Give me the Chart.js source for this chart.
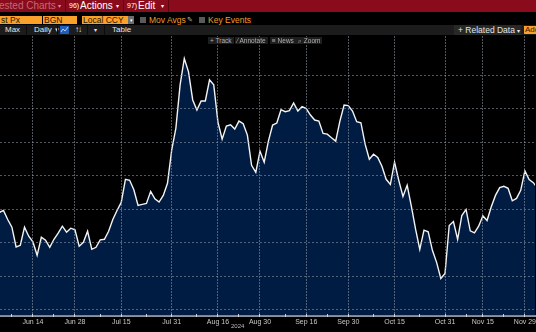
<!DOCTYPE html>
<html>
<head>
<meta charset="utf-8">
<script src="https://cdn.jsdelivr.net/npm/chart.js@4.4.1/dist/chart.umd.min.js"></script>
<style>
  * { box-sizing: border-box; }
  html, body { margin: 0; width: 536px; height: 332px; overflow: hidden; background: #000; }
  body { font-family: "Liberation Sans", Arial, sans-serif; }
  #page { position: relative; width: 536px; height: 332px; overflow: hidden; }
  .a { position: absolute; white-space: nowrap; }

  /* launchpad menu strip */
  #menu { left: 0; top: 0; width: 536px; height: 12px; background: #8a0b1b; }
  #menu .t { top: 0; line-height: 12px; font-size: 10px; color: #fff; }
  #menu .k { top: 0; line-height: 12px; font-size: 7px; color: #fff; }
  #menu .dv { top: 0; width: 1px; height: 12px; background: #5e0510; }

  /* security / pricing inputs */
  .box { top: 16px; height: 8px; background: #f9a12a; color: #2a1800; font-size: 8.5px; line-height: 8px; padding-left: 1px; }
  .chk { top: 17px; width: 6px; height: 6px; background: #5a5a5a; }
  .opt { top: 16px; font-size: 8.5px; line-height: 8px; color: #f29b28; }

  /* toolbar */
  #tools { left: 0; top: 25px; width: 536px; height: 10px; background: #1c1c1c; }
  .tb { top: 25px; font-size: 8px; line-height: 10px; color: #e4e4e4; }
  .sep { top: 25px; width: 1px; height: 10px; background: #0c0c0c; }

  /* chart action buttons */
  .btn { top: 37px; height: 7px; background: #1e1e1e; color: #b0b0b0; font-size: 6.5px; line-height: 7px; padding: 0 2px; z-index: 2; }

  #wrap { position: absolute; left: 0; top: 36px; width: 536px; height: 296px; }
  #year { left: 231px; top: 323px; font-size: 6px; line-height: 6px; color: #bdbdbd; }
</style>
</head>
<body>
<div id="page">

<div id="menu" class="a">
  <span class="a t" style="left:-1px;color:#c06a76">ested Charts</span>
  <span class="a t" style="left:58px;font-size:6px;color:#d8949c">&#9662;</span>
  <div class="a dv" style="left:65px"></div>
  <span class="a k" style="left:69px">96)</span>
  <span class="a t" style="left:80px">Actions</span>
  <span class="a t" style="left:116px;font-size:6px">&#9662;</span>
  <div class="a dv" style="left:123px"></div>
  <span class="a k" style="left:127px">97)</span>
  <span class="a t" style="left:138px">Edit</span>
  <span class="a t" style="left:161px;font-size:6px">&#9662;</span>
  <div class="a dv" style="left:168px"></div>
</div>

<div class="a box" style="left:0;width:42px">st Px</div>
<div class="a box" style="left:43px;width:34px">BGN</div>
<div class="a box" style="left:82px;width:46px">Local CCY</div>
<div class="a" style="left:128px;top:16px;width:6px;height:8px;background:#6e6e6e;color:#fff;font-size:5px;line-height:8px;text-align:center">&#9662;</div>
<div class="a chk" style="left:140px"></div>
<span class="a opt" style="left:149px">Mov Avgs</span>
<span class="a opt" style="left:187px;color:#bbb;font-size:7px">&#9998;</span>
<div class="a chk" style="left:199px"></div>
<span class="a opt" style="left:208px">Key Events</span>

<div id="tools" class="a"></div>
<span class="a tb" style="left:5px">Max</span>
<div class="a sep" style="left:26px"></div>
<span class="a tb" style="left:34px">Daily <span style="font-size:6px">&#9660;</span></span>
<div class="a sep" style="left:57px"></div>
<div class="a" style="left:60px;top:26px;width:9px;height:8px;background:#1f5fc0;overflow:hidden">
  <svg width="9" height="8" style="display:block"><polyline points="1,6 3,3 5,5 8,1" fill="none" stroke="#dfe9ff" stroke-width="0.8"/></svg>
</div>
<span class="a tb" style="left:75px;letter-spacing:-1px">&#8593;&#8595;</span>
<div class="a sep" style="left:87px"></div>
<span class="a tb" style="left:94px;font-size:6px">&#9662;</span>
<div class="a sep" style="left:104px"></div>
<span class="a tb" style="left:112px">Table</span>
<div class="a" style="left:454px;top:25px;width:67px;height:10px;background:#282828"></div>
<span class="a tb" style="left:458px;font-size:8.5px">+ Related Data <span style="font-size:6px">&#9662;</span></span>
<div class="a" style="left:524px;top:26px;width:14px;height:8px;background:#f9a12a;color:#2a1800;font-size:8px;line-height:8px;padding-left:1px">Ado</div>

<span class="a btn" style="left:208px">+ Track</span>
<span class="a btn" style="left:235px">&#8260; Annotate</span>
<span class="a btn" style="left:270px">&#8801; News</span>
<span class="a btn" style="left:296px">&#8981; Zoom</span>

<div id="wrap"><canvas id="pxChart"></canvas></div>
<span id="year" class="a">2024</span>

</div>

<script>
// session calendar (weekdays, local market holidays removed)
const firstDay = "2024-06-04";
const lastDay = "2024-12-04";
const holidays = ["2024-08-15", "2024-11-01", "2024-11-11"];

// labelled dates on the time axis, and the half-way minor marks
const labelDates = ["2024-06-14", "2024-06-28", "2024-07-15", "2024-07-31", "2024-08-16", "2024-08-30",
                    "2024-09-16", "2024-09-30", "2024-10-15", "2024-10-31", "2024-11-15", "2024-11-29"];
const minorDates = ["2024-06-07", "2024-06-21", "2024-07-08", "2024-07-23", "2024-08-08", "2024-08-23",
                    "2024-09-09", "2024-09-23", "2024-10-08", "2024-10-23", "2024-11-08", "2024-11-22"];

// last price, one per session
const lastPx = [
  12.90, 12.96, 12.69, 12.46, 11.87, 11.92, 12.46, 12.19, 12.02, 11.62,
  12.16, 12.07, 11.86, 12.10, 12.28, 12.49, 12.31, 12.43, 12.38, 11.89,
  12.01, 12.34, 11.80, 11.86, 12.08, 12.10, 12.34, 12.69, 12.96, 13.20,
  13.89, 13.86, 13.58, 13.11, 13.14, 13.17, 13.53, 13.31, 13.21, 13.41,
  13.77, 14.76, 15.42, 16.71, 17.50, 17.10, 16.26, 15.96, 16.23, 16.23,
  16.86, 16.71, 15.60, 15.09, 15.48, 15.52, 15.39, 15.63, 15.55, 15.21,
  14.31, 14.10, 14.73, 14.40, 15.03, 15.51, 15.57, 15.97, 15.91, 15.94,
  16.17, 15.93, 16.06, 16.00, 15.81, 15.66, 15.63, 15.26, 15.24, 15.13,
  15.03, 15.63, 16.11, 16.09, 15.93, 15.61, 15.58, 14.94, 14.49, 14.64,
  14.54, 14.28, 13.89, 13.74, 14.40, 13.86, 13.38, 13.71, 13.08, 12.40,
  11.80, 12.37, 12.32, 11.77, 11.41, 10.93, 11.08, 12.51, 12.63, 12.10,
  12.81, 12.99, 12.35, 12.29, 12.49, 12.80, 12.66, 13.07, 13.41, 13.64,
  13.68, 13.62, 13.25, 13.32, 13.56, 14.14, 13.88, 13.79, 13.62
];

// visible price window and grid levels
const yMin = 9.82;
const yMax = 18.17;
const gridLevels = [10, 11, 12, 13, 14, 15, 16, 17];

// x window in sessions: first session sits just left of the frame, last one just right
const xMin = 0.17;
const xMax = 127.4;

const MONTHS = ["Jan", "Feb", "Mar", "Apr", "May", "Jun", "Jul", "Aug", "Sep", "Oct", "Nov", "Dec"];

function tradingDays(from, to, skip) {
  const out = [];
  const end = new Date(to + "T00:00:00Z");
  for (let d = new Date(from + "T00:00:00Z"); d <= end; d.setUTCDate(d.getUTCDate() + 1)) {
    const iso = d.toISOString().slice(0, 10);
    const wd = d.getUTCDay();
    if (wd === 0 || wd === 6 || skip.includes(iso)) continue;
    out.push(iso);
  }
  return out;
}

function shortDate(iso) {
  return MONTHS[+iso.slice(5, 7) - 1] + " " + (+iso.slice(8, 10));
}

const sessions = tradingDays(firstDay, lastDay, holidays);
const labelIdx = labelDates.map(d => sessions.indexOf(d));
const minorIdx = minorDates.map(d => sessions.indexOf(d));
const GRID = "rgba(150,156,170,0.55)";

// dotted date lines and small axis marks, placed with the x scale
const dateLines = {
  id: "dateLines",
  afterDraw(chart) {
    const { ctx, chartArea: area, scales: { x } } = chart;
    ctx.save();
    ctx.fillStyle = GRID;
    labelIdx.forEach(i => {
      const px = Math.floor(x.getPixelForValue(i));
      for (let y = Math.round(area.top); y < area.bottom - 1; y += 3) {
        ctx.fillRect(px, y, 1, 2);
      }
    });
    ctx.fillStyle = "#d4d4d4";
    labelIdx.concat(minorIdx).forEach(i => {
      const px = Math.floor(x.getPixelForValue(i));
      ctx.fillRect(px, Math.round(area.bottom) - 2, 1, 3);
    });
    ctx.restore();
  }
};

new Chart(document.getElementById("pxChart"), {
  type: "line",
  data: {
    datasets: [{
      data: lastPx.map((v, i) => ({ x: i, y: v })),
      borderColor: "#f4f4f4",
      borderWidth: 1.4,
      backgroundColor: "#011c42",
      fill: "start",
      tension: 0,
      pointRadius: 0,
    }]
  },
  options: {
    responsive: true,
    maintainAspectRatio: false,
    devicePixelRatio: 1,
    animation: false,
    layout: { padding: { left: 0, right: 0, top: 0, bottom: 6 } },
    plugins: { legend: { display: false }, tooltip: { enabled: false } },
    scales: {
      x: {
        type: "linear",
        min: xMin,
        max: xMax,
        border: { display: true, color: "#9092a0", width: 2 },
        grid: { drawOnChartArea: false, drawTicks: true, tickLength: 2, tickColor: "rgba(0,0,0,0)" },
        afterBuildTicks: scale => { scale.ticks = labelIdx.map(v => ({ value: v })); },
        ticks: {
          autoSkip: false,
          maxRotation: 0,
          minRotation: 0,
          padding: 0,
          color: "#c8c8c8",
          font: { family: "Liberation Sans", size: 7 },
          callback: val => shortDate(sessions[val])
        }
      },
      y: {
        min: yMin,
        max: yMax,
        border: { display: false, dash: [2, 2] },
        grid: { z: 1, color: GRID, drawTicks: false },
        afterBuildTicks: scale => { scale.ticks = gridLevels.map(v => ({ value: v })); },
        ticks: { display: false }
      }
    }
  },
  plugins: [dateLines]
});
</script>
</body>
</html>
